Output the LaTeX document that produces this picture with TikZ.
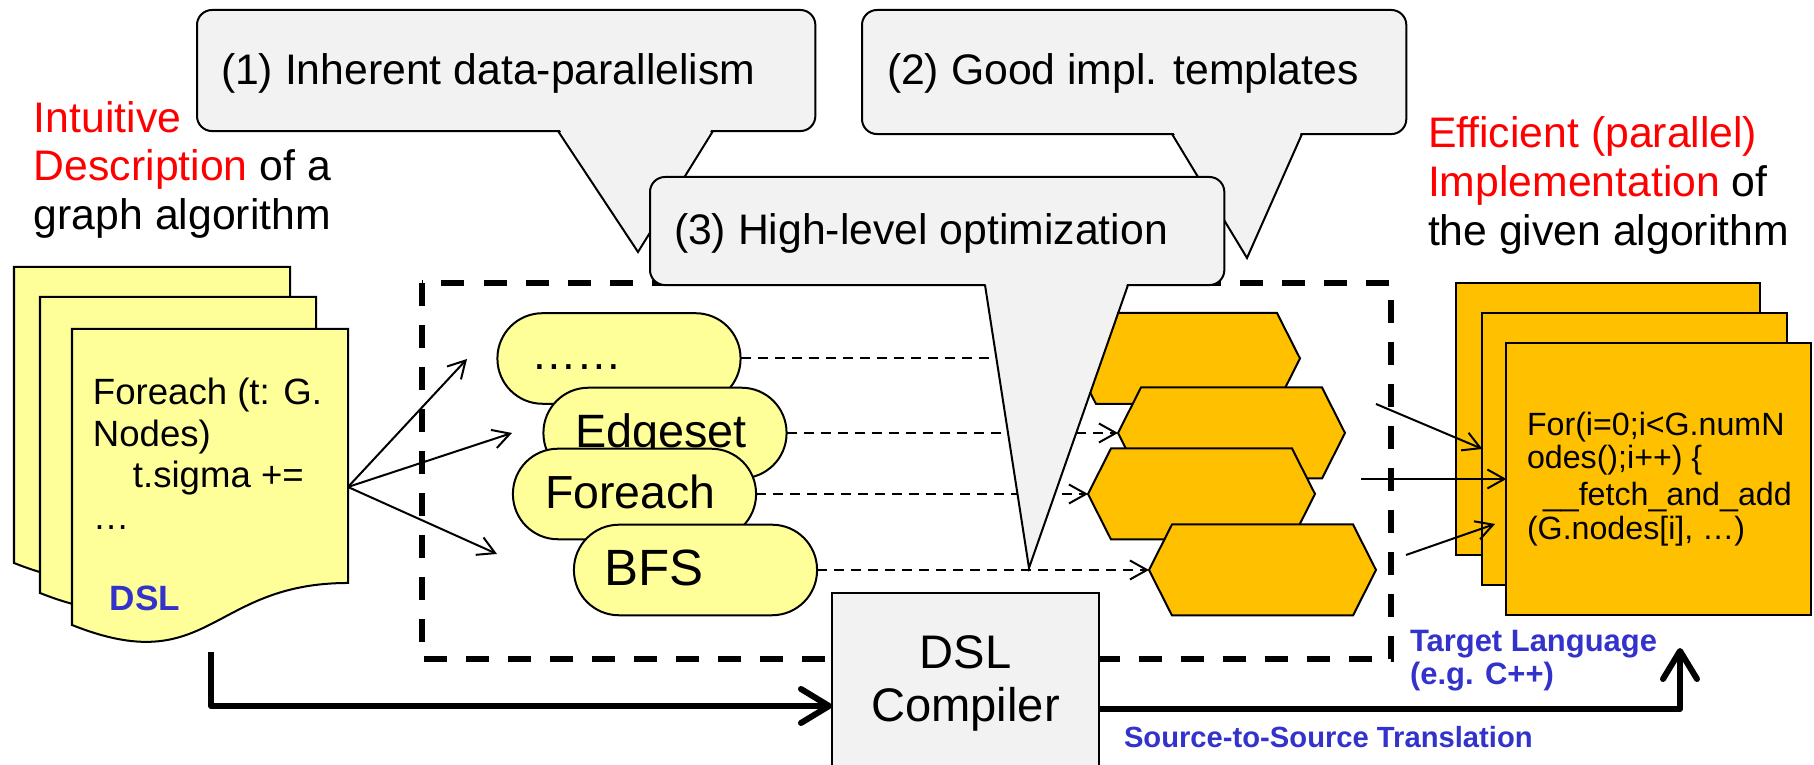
\documentclass[tikz,border=0pt]{standalone}
\usepackage{fontspec}
\setmainfont{Liberation Sans}
\usetikzlibrary{arrows.meta}

\definecolor{paleyellow}{HTML}{FFFF99}
\definecolor{amber}{HTML}{FFC000}
\definecolor{callgray}{HTML}{F2F2F2}
\definecolor{hired}{HTML}{FF0000}
\definecolor{labblue}{HTML}{3333CC}

\newcommand\setfs[2]{\fontsize{#1}{#2}\selectfont}

\begin{document}
\begin{tikzpicture}[x=0.01cm,y=-0.01cm,
  lbl/.style={inner sep=0pt, outer sep=0pt, anchor=base west},
  ydoc/.style={draw=black, line width=0.02cm, fill=paleyellow, line join=miter},
  odoc/.style={draw=black, line width=0.02cm, fill=amber, inner sep=0pt, outer sep=0pt,
    minimum width=3.04cm, minimum height=2.72cm},
  oval/.style={draw=black, line width=0.02cm, fill=paleyellow, rounded corners=0.45cm,
    inner sep=0pt, outer sep=0pt, minimum width=2.43cm, minimum height=0.905cm},
  hexa/.style={draw=black, line width=0.02cm, fill=amber, line join=miter},
  callbox/.style={draw=black, line width=0.02cm, fill=callgray, rounded corners=0.15cm,
    inner sep=0pt, outer sep=0pt, anchor=north west},
  compbox/.style={draw=black, line width=0.02cm, fill=callgray, inner sep=0pt, outer sep=0pt,
    anchor=north west, minimum width=2.67cm, minimum height=1.8cm},
  thinarrow/.style={line width=0.02cm, -{Straight Barb[length=0.17cm,width=0.19cm]}},
  dconn/.style={thinarrow, dash pattern=on 0.1cm off 0.07cm},
  bigarrow/.style={line width=0.06cm, line join=round,
    -{Straight Barb[length=0.28cm,width=0.34cm,round]}},
  frame/.style={line width=0.052cm, dash pattern=on 0.23cm off 0.19cm},
  bigtxt/.style={lbl, font=\setfs{12.15}{14}},
  codeL/.style={lbl, font=\setfs{10.4}{12}},
  codeR/.style={lbl, font=\setfs{9.15}{10}},
  bluelbl/.style={lbl, font=\bfseries\setfs{8.8}{10}, text=labblue}
]
\path[use as bounding box] (0,0) rectangle (1814,765);
\clip (0,0) rectangle (1814,765);
\fill[white] (0,0) rectangle (1814,765);

% dashed frame around the compiler internals
\draw[frame] (422,283) rectangle (1391,659);

% input program: stack of DSL documents
\draw[ydoc] (14,267) -- (290,267) -- (290,521) .. controls (152,521) and (152,618) .. (14,563) -- cycle;
\draw[ydoc] (40,297) -- (316,297) -- (316,551) .. controls (178,551) and (178,648) .. (40,593) -- cycle;
\draw[ydoc] (72,329) -- (348,329) -- (348,583) .. controls (210,583) and (210,680) .. (72,625) -- cycle;
\node[codeL] (src1) at (93,405) {Foreach (t: G.};
\node[codeL] (src2) at (93,447) {Nodes)};
\node[codeL] (src3) at (133,488) {t.sigma +=};
\node[codeL] (src4) at (93,530) {…};
\node[lbl, font=\bfseries\setfs{10}{12}, text=labblue] (dsltag) at (110,611) {DSL};

% left caption
\node[bigtxt] (in1) at (34,133) {\textcolor{hired}{Intuitive}};
\node[bigtxt] (in2) at (34,181) {\textcolor{hired}{Description} of a};
\node[bigtxt] (in3) at (34,230) {graph algorithm};

% right caption
\node[bigtxt] (out1) at (1428,148) {\textcolor{hired}{Efficient (parallel)}};
\node[bigtxt] (out2) at (1428,197) {\textcolor{hired}{Implementation} of};
\node[bigtxt] (out3) at (1428,246) {the given algorithm};

% parsed constructs
\node[oval] (o1) at (619,358.5) {};
\node[lbl, font=\setfs{13}{15}] (o1t) at (531,370) {……};
\node[oval] (o2) at (665,433) {};
\node[lbl, font=\setfs{13.3}{15}] (o2t) at (575,448) {Edgeset};
\node[oval] (o3) at (634.5,494) {};
\node[lbl, font=\setfs{13.2}{15}] (o3t) at (545,509) {Foreach};
\node[oval] (o4) at (695.5,570) {};
\node[lbl, font=\setfs{14.5}{16}] (o4t) at (604,586) {BFS};

% code templates
\newcommand\hexat[3]{%
  \coordinate (#1) at (#2,#3);
  \draw[hexa] (#1) -- ++(23,-45.5) -- ++(181,0) -- ++(23,45.5) -- ++(-23,45.5) -- ++(-181,0) -- cycle;}
\hexat{h1}{1073}{358.5}
\hexat{h2}{1118}{433}
\hexat{h3}{1088}{494}
\hexat{h4}{1149}{570}

\draw[dconn] (o1.east) -- (h1);
\draw[dconn] (o2.east) -- (h2);
\draw[dconn] (o3.east) -- (h3);
\draw[dconn] (o4.east) -- (h4);

% DSL program split into constructs
\coordinate (dslout) at (348,487);
\coordinate (toA) at (467,359);
\coordinate (toB) at (512,433);
\coordinate (toC) at (497,554);
\draw[thinarrow] (dslout) -- (toA);
\draw[thinarrow] (dslout) -- (toB);
\draw[thinarrow] (dslout) -- (toC);

% generated program: stack of target documents
\node[odoc] (tA) at (1608,419) {};
\node[odoc] (tB) at (1634.5,449) {};
\node[odoc] (tC) at (1658.5,479) {};
\node[codeR] (tg1) at (1527,436) {For(i=0;i<G.numN};
\node[codeR] (tg2) at (1527,469) {odes();i++) \{};
\node[codeR] (tg3) at (1543,506) {\_\_fetch\_and\_add};
\node[codeR] (tg4) at (1527,540) {(G.nodes[i], …)};

\coordinate (fromA) at (1376,404);
\coordinate (fromB) at (1361,479);
\coordinate (fromC) at (1406,555);
\coordinate (endC) at (1495,524);
\draw[thinarrow] (fromA) -- (tB.west);
\draw[thinarrow] (fromB) -- (tC.west);
\draw[thinarrow] (fromC) -- (endC);

% callout (1)
\node[callbox, minimum width=6.18cm, minimum height=1.21cm] (c1) at (197,10) {};
\fill[callgray] (558,127) -- (713,127) -- (638,252) -- cycle;
\draw[line width=0.02cm] (558,131) -- (638,252) -- (713,131);
\node[bigtxt] (c1t) at (221,85) {(1) Inherent data-parallelism};

% callout (2)
\node[callbox, minimum width=5.44cm, minimum height=1.24cm] (c2) at (862,10) {};
\fill[callgray] (1172,130) -- (1302,130) -- (1247,258) -- cycle;
\draw[line width=0.02cm] (1172,134) -- (1247,258) -- (1302,134);
\node[bigtxt] (c2t) at (887,85) {(2) Good impl. templates};

% callout (3)
\node[callbox, minimum width=5.74cm, minimum height=1.08cm] (c3) at (650,177) {};
\fill[callgray] (985,281) -- (1128,281) -- (1029,568) -- cycle;
\draw[line width=0.02cm] (985,285) -- (1029,568) -- (1128,285);
\node[bigtxt] (c3t) at (674,245) {(3) High-level optimization};

% compiler
\node[compbox] (comp) at (832,593) {};
\node[inner sep=0pt, anchor=base, font=\setfs{13.4}{15}] (comp1) at (965.5,669) {DSL};
\node[inner sep=0pt, anchor=base, font=\setfs{13.4}{15}] (comp2) at (965.5,722) {Compiler};

\coordinate (srcfoot) at (211,652);
\coordinate (inlevel) at (0,706);
\coordinate (outlevel) at (0,709);
\coordinate (uptip) at (1680,648);
\draw[bigarrow] (srcfoot) |- (comp.west |- inlevel);
\draw[bigarrow] (comp.east |- outlevel) -| (uptip);

\node[bluelbl] (tl1) at (1410,652) {Target Language};
\node[bluelbl] (tl2) at (1410,685) {(e.g. C++)};
\node[lbl, font=\bfseries\setfs{8.3}{10}, text=labblue] (s2s) at (1124,748) {Source-to-Source Translation};
\end{tikzpicture}
\end{document}
